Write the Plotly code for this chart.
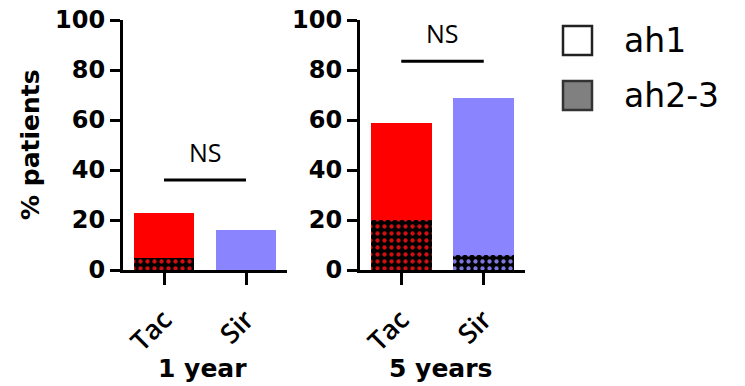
import plotly.graph_objects as go

categories = ["Tac", "Sir"]
ah23_1yr = [5, 0]
ah1_1yr = [18, 16]
ah23_5yr = [20, 6]
ah1_5yr = [39, 63]
bar_colors = ["#FF0000", "#8A85FF"]
dot_colors = ["#D01010", "#7C78E0"]
y_ticks = [0, 20, 40, 60, 80, 100]
ns_level = [36, 83.5]

W, H = 745, 386
def px(x):
    return x / W
def py(y):
    return 1 - y / H

fig = go.Figure()
for xa, ya, a23, a1 in [("x", "y", ah23_1yr, ah1_1yr), ("x2", "y2", ah23_5yr, ah1_5yr)]:
    fig.add_trace(go.Bar(
        x=categories, y=a23, xaxis=xa, yaxis=ya, showlegend=False,
        marker=dict(color="black", line=dict(width=0),
                    pattern=dict(shape=".", fgcolor=dot_colors, bgcolor="black",
                                 fillmode="replace", size=7, solidity=0.3)),
    ))
    fig.add_trace(go.Bar(
        x=categories, y=a1, xaxis=xa, yaxis=ya, showlegend=False,
        marker=dict(color=bar_colors, line=dict(width=0)),
    ))

ytickfont = dict(family="DejaVu Sans", size=24, color="black", weight="bold")
xtickfont = dict(family="Open Sans", size=27, color="black", weight=600)
axis_common = dict(showline=True, linecolor="black", linewidth=3, ticks="outside",
                   tickcolor="black", tickwidth=3, showgrid=False, zeroline=False,
                   automargin=False)
dom_y = [py(270), py(20)]
fig.update_layout(
    template="none",
    width=W, height=H, margin=dict(l=0, r=0, t=0, b=0, autoexpand=False),
    paper_bgcolor="white", plot_bgcolor="white", showlegend=False,
    barmode="stack", bargap=0.26,
    xaxis=dict(domain=[px(123), px(287)], range=[-0.5, 1.5], ticklen=12,
               tickangle=-45, tickfont=xtickfont, ticklabelstandoff=8, anchor="y", **axis_common),
    yaxis=dict(domain=dom_y, range=[0, 100], tickvals=y_ticks, ticklen=10,
               tickfont=ytickfont, anchor="x", **axis_common),
    xaxis2=dict(domain=[px(360), px(525)], range=[-0.5, 1.5], ticklen=12,
                tickangle=-45, tickfont=xtickfont, ticklabelstandoff=8, anchor="y2", **axis_common),
    yaxis2=dict(domain=dom_y, range=[0, 100], tickvals=y_ticks, ticklen=10,
                tickfont=ytickfont, anchor="x2", **axis_common),
)

shapes = []
annotations = []
for i, (xr, yr) in enumerate([("x", "y"), ("x2", "y2")]):
    shapes.append(dict(type="line", xref=xr, yref=yr, x0=0, x1=1, y0=ns_level[i], y1=ns_level[i],
                       line=dict(color="black", width=3)))
    annotations.append(dict(xref=xr, yref=yr, x=0.5, y=ns_level[i], yshift=28, yanchor="middle",
                            xanchor="center", text="NS", showarrow=False,
                            font=dict(family="Open Sans", size=25, color="black")))

boldfont = dict(family="DejaVu Sans", size=25, color="black", weight="bold")
annotations.append(dict(xref="paper", yref="paper", x=px(202), y=py(368), text="1 year",
                        xanchor="center", yanchor="middle", showarrow=False, font=boldfont))
annotations.append(dict(xref="paper", yref="paper", x=px(440), y=py(368), text="5 years",
                        xanchor="center", yanchor="middle", showarrow=False, font=boldfont))
annotations.append(dict(xref="paper", yref="paper", x=px(30), y=py(145), text="% patients",
                        textangle=-90, xanchor="center", yanchor="middle", showarrow=False,
                        font=boldfont))

# legend
shapes.append(dict(type="rect", xref="paper", yref="paper", x0=px(563), x1=px(592), y0=py(55), y1=py(26),
                   line=dict(color="#222", width=2.5), fillcolor="white"))
shapes.append(dict(type="rect", xref="paper", yref="paper", x0=px(563), x1=px(592), y0=py(110), y1=py(81),
                   line=dict(color="#333", width=2.5), fillcolor="#808080"))
legfont = dict(family="DejaVu Sans", size=33, color="black")
annotations.append(dict(xref="paper", yref="paper", x=px(622), y=py(40), text="ah1", xanchor="left",
                        yanchor="middle", showarrow=False, font=legfont))
annotations.append(dict(xref="paper", yref="paper", x=px(622), y=py(95), text="ah2-3", xanchor="left",
                        yanchor="middle", showarrow=False, font=legfont))
fig.update_layout(shapes=shapes, annotations=annotations)

fig.write_html("out.html")
